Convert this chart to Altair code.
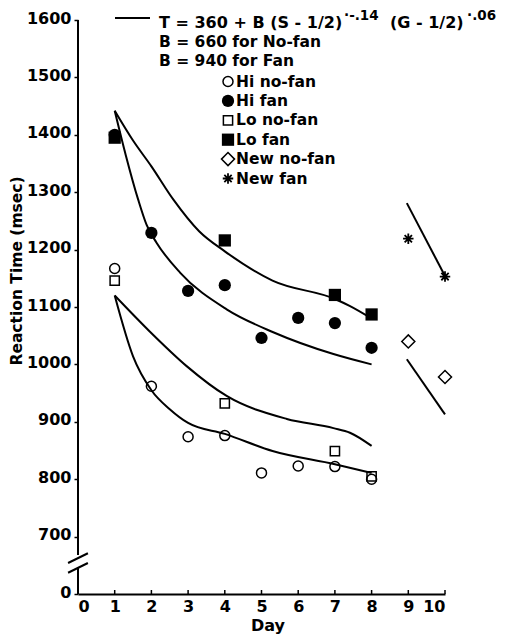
import altair as alt
import pandas as pd

FONT = "DejaVu Sans"

# ---------------- data ----------------
hi_days = [1, 2, 3, 4, 5, 6, 7, 8]
hi_nofan = [1167, 962, 874, 876, 811, 823, 822, 800]
hi_fan = [1400, 1229, 1128, 1138, 1046, 1081, 1072, 1029]
lo_days = [1, 4, 7, 8]
lo_nofan = [1146, 932, 849, 805]
lo_fan = [1395, 1216, 1121, 1087]
new_days = [9, 10]
new_nofan = [1040, 978]
new_fan = [1219, 1153]

# fitted curves
fitA_days = [1, 1.5, 2, 2.6, 3.3, 4, 5.3, 7, 7.4, 8]
fitA_rt = [1442, 1390, 1345, 1287, 1232, 1197, 1146, 1114, 1102, 1080]
fitB_days = [1, 1.3, 1.64, 1.87, 2.14, 2.78, 4.05, 5.32, 6.96, 8]
fitB_rt = [1442, 1365, 1287, 1243, 1212, 1160, 1096, 1056, 1018, 1000]
fitC_days = [1, 1.96, 2.96, 4.05, 5.69, 6.96, 7.41, 8]
fitC_rt = [1120, 1057, 997, 945, 905, 889, 881, 858]
fitD_days = [1, 1.5, 2, 2.5, 3, 4, 5.3, 7, 8]
fitD_rt = [1120, 1014, 955, 922, 898, 879, 849, 826, 811]
fitE_days = [8.96, 10]
fitE_rt = [1281, 1154]
fitF_days = [8.96, 10]
fitF_rt = [1009, 913]

y_ticks = [600, 700, 800, 900, 1000, 1100, 1200, 1300, 1400, 1500, 1600]
x_ticks = list(range(11))

# broken axis pieces (data units)
axis_seg_y1 = [600, 668]
axis_seg_y2 = [647, 1600]
slash_x1 = [-0.27, -0.27]
slash_x2 = [0.27, 0.27]
slash_y1 = [654, 637]
slash_y2 = [671, 654]

legend_labels = ["Hi no-fan", "Hi fan", "Lo no-fan", "Lo fan", "New no-fan", "New fan"]

ASTERISK = "M0,-1L0,1M-1,0L1,0M-0.7,-0.7L0.7,0.7M-0.7,0.7L0.7,-0.7"

# ---------------- encodings ----------------
def X(field="day"):
    return alt.X(f"{field}:Q",
                 scale=alt.Scale(domain=[0, 10], nice=False, zero=False),
                 axis=alt.Axis(values=x_ticks, ticks=False, grid=False, domainWidth=2,
                               domainColor="black", labelFont=FONT, labelFontWeight="bold",
                               labelFontSize=16, labelPadding=4, labelColor="black",
                               title=None))

def Y(field="rt"):
    return alt.Y(f"{field}:Q",
                 scale=alt.Scale(domain=[600, 1600], nice=False, zero=False),
                 axis=alt.Axis(values=y_ticks, domain=False, tickSize=4, tickWidth=1.5,
                               tickColor="black", grid=False, labelFont=FONT,
                               labelFontWeight="bold", labelFontSize=16, labelPadding=3,
                               labelOffset=-2,
                               labelColor="black", title=None,
                               labelExpr="datum.value == 600 ? '0' : format(datum.value, 'd')"))

layers = []

# axis line with break
seg_df = pd.DataFrame({"day": [0, 0], "rt": axis_seg_y1, "rt2": axis_seg_y2})
layers.append(alt.Chart(seg_df).mark_rule(color="black", strokeWidth=2).encode(
    x=X(), y=Y(), y2="rt2:Q"))
slash_df = pd.DataFrame({"day": slash_x1, "day2": slash_x2, "rt": slash_y1, "rt2": slash_y2})
layers.append(alt.Chart(slash_df).mark_rule(color="black", strokeWidth=2).encode(
    x=X(), x2="day2:Q", y=Y(), y2="rt2:Q"))
# inward x ticks
xt_df = pd.DataFrame({"day": x_ticks, "rt": [600] * len(x_ticks), "rt2": [607] * len(x_ticks)})
layers.append(alt.Chart(xt_df).mark_rule(color="black", strokeWidth=1.5).encode(
    x=X(), y=Y(), y2="rt2:Q"))

# fitted curves
curves = []
for name, d, r in [("A", fitA_days, fitA_rt), ("B", fitB_days, fitB_rt),
                   ("C", fitC_days, fitC_rt), ("D", fitD_days, fitD_rt),
                   ("E", fitE_days, fitE_rt), ("F", fitF_days, fitF_rt)]:
    curves.append(pd.DataFrame({"curve": name, "day": d, "rt": r}))
curve_df = pd.concat(curves, ignore_index=True)
layers.append(alt.Chart(curve_df).mark_line(color="black", strokeWidth=2,
                                             interpolate="monotone").encode(
    x=X(), y=Y(), detail="curve:N", order="day:Q"))

# data points
series = [
    ("Lo no-fan", lo_days, lo_nofan, dict(shape="square", filled=False, size=85, strokeWidth=1.5)),
    ("Hi no-fan", hi_days, hi_nofan, dict(shape="circle", filled=False, size=100, strokeWidth=1.5)),
    ("Lo fan", lo_days, lo_fan, dict(shape="square", filled=True, size=150)),
    ("Hi fan", hi_days, hi_fan, dict(shape="circle", filled=True, size=150)),
    ("New no-fan", new_days, new_nofan, dict(shape="diamond", filled=False, size=170, strokeWidth=1.5)),
    ("New fan", new_days, new_fan, dict(shape=ASTERISK, filled=False, size=110, strokeWidth=1.8)),
]
style_by_name = {}
for name, d, r, style in series:
    style_by_name[name] = style
    df = pd.DataFrame({"day": d, "rt": r})
    layers.append(alt.Chart(df).mark_point(color="black", opacity=1, **style).encode(
        x=X(), y=Y()))

one = pd.DataFrame({"a": [0]})

def txt(text, x, y, size=15, align="left", angle=None):
    kw = dict(text=text, font=FONT, fontWeight="bold", fontSize=size, align=align,
              baseline="middle", color="black")
    if angle is not None:
        kw["angle"] = angle
    return alt.Chart(one).mark_text(**kw).encode(x=alt.value(x), y=alt.value(y))

# legend: formula
layers.append(alt.Chart(one).mark_rule(color="black", strokeWidth=2).encode(
    x=alt.value(37), x2=alt.value(72), y=alt.value(-2)))
layers.append(txt("T = 360 + B (S - 1/2)", 81, 3, 16))
layers.append(txt("·-.14", 266, -4, 13.5))
layers.append(txt("(G - 1/2)", 312, 3, 16))
layers.append(txt("·.06", 389, -4, 13.5))
layers.append(txt("B = 660 for No-fan", 81, 22, 15.5))
layers.append(txt("B = 940 for Fan", 81, 41, 15.5))

# legend: symbols
row_y0 = 61.5
row_dy = 19.4
for i, lab in enumerate(legend_labels):
    y = row_y0 + i * row_dy
    layers.append(alt.Chart(one).mark_point(color="black", opacity=1, **style_by_name[lab]).encode(
        x=alt.value(150), y=alt.value(y)))
    layers.append(txt(lab, 158, y, 15.5))

# axis titles
layers.append(txt("Reaction Time (msec)", -61, 251, 15.5, align="center", angle=270))
layers.append(txt("Day", 190, 606, 16, align="center"))

chart = alt.layer(*layers).properties(
    width=367, height=574,
    padding={"left": 70, "top": 12, "right": 60, "bottom": 41},
    autosize=alt.AutoSizeParams(type="none"),
    background="white",
).configure_view(stroke=None)

chart.save("out.html", embed_options={"renderer": "svg", "actions": False})
